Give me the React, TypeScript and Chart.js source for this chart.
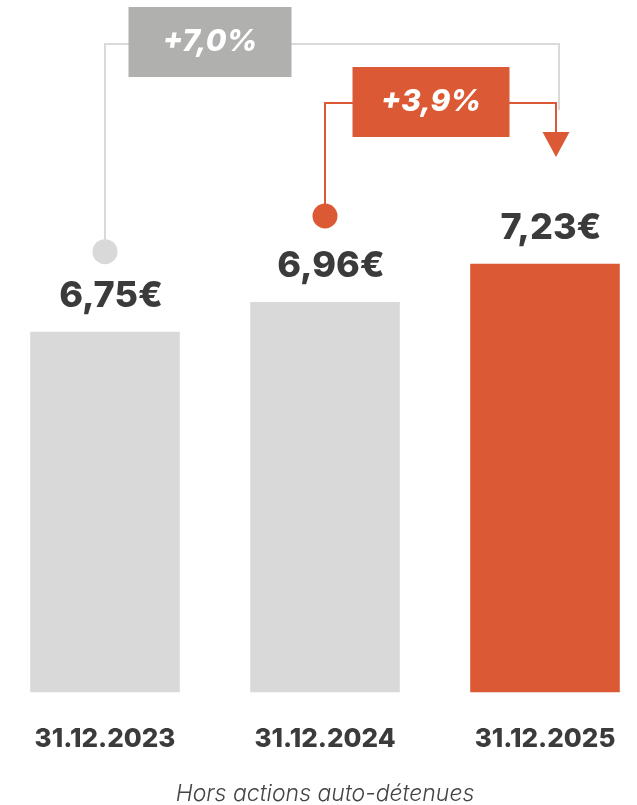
import React, { useEffect, useRef } from "react";
import { Chart, registerables } from "chart.js";

Chart.register(...registerables);

const dates = ["31.12.2023", "31.12.2024", "31.12.2025"];
const dividends = [6.75, 6.96, 7.23];
const valueLabels = ["6,75€", "6,96€", "7,23€"];
const growthLabels = ["+7,0%", "+3,9%"];
const footnote = "Hors actions auto-détenues";

const GREY = "#d9d9d9";
const ORANGE = "#db5a35";
const BOX_GREY = "#b0b0af";
const TEXT = "#3b3b3b";
const FONT = "Inter, 'Open Sans', sans-serif";

const annotations = {
  id: "annotations",
  afterDatasetsDraw(chart: any) {
    const ctx = chart.ctx as CanvasRenderingContext2D;
    const bars = chart.getDatasetMeta(0).data as any[];
    const b1 = bars[0], b2 = bars[1], b3 = bars[2];
    ctx.save();

    // value labels
    ctx.fillStyle = TEXT;
    ctx.font = `800 36px ${FONT}`;
    ctx.textAlign = "center";
    ctx.textBaseline = "middle";
    bars.forEach((b, i) => ctx.fillText(valueLabels[i], b.x + 6, b.y - 36));

    const r = 12.5;
    const c1y = b1.y - 80;
    const c2y = b2.y - 86;
    const yTop = 44;
    const yMid = 103;
    const gx = b3.x + 14;
    const ox = b3.x + 11;

    // grey connector
    ctx.lineWidth = 2;
    ctx.strokeStyle = GREY;
    ctx.beginPath();
    ctx.moveTo(b1.x, c1y);
    ctx.lineTo(b1.x, yTop);
    ctx.lineTo(gx, yTop);
    ctx.lineTo(gx, 110);
    ctx.stroke();
    ctx.fillStyle = GREY;
    ctx.beginPath();
    ctx.arc(b1.x, c1y, r, 0, Math.PI * 2);
    ctx.fill();

    // orange connector
    ctx.strokeStyle = ORANGE;
    ctx.beginPath();
    ctx.moveTo(b2.x, c2y);
    ctx.lineTo(b2.x, yMid);
    ctx.lineTo(ox, yMid);
    ctx.lineTo(ox, 134);
    ctx.stroke();
    ctx.fillStyle = ORANGE;
    ctx.beginPath();
    ctx.arc(b2.x, c2y, r, 0, Math.PI * 2);
    ctx.fill();
    ctx.beginPath();
    ctx.moveTo(ox - 13.5, 132);
    ctx.lineTo(ox + 13.5, 132);
    ctx.lineTo(ox, 157);
    ctx.closePath();
    ctx.fill();

    // boxes
    const gbx = b1.x + 105;
    ctx.fillStyle = BOX_GREY;
    ctx.fillRect(gbx - 81.5, 7, 163, 70);
    const obx = b2.x + 106;
    ctx.fillStyle = ORANGE;
    ctx.fillRect(obx - 78.5, 67, 157, 70);

    ctx.fillStyle = "#ffffff";
    ctx.font = `italic 800 30px ${FONT}`;
    ctx.fillText(growthLabels[0], gbx, 42);
    ctx.fillText(growthLabels[1], obx, 102);

    ctx.restore();
  },
};

export default function App() {
  const ref = useRef<HTMLCanvasElement | null>(null);

  useEffect(() => {
    if (!ref.current) return;
    const chart = new Chart(ref.current, {
      type: "bar",
      data: {
        labels: dates,
        datasets: [
          {
            data: dividends,
            backgroundColor: [GREY, GREY, ORANGE],
            borderWidth: 0,
            barPercentage: 0.68,
            categoryPercentage: 1,
          },
        ],
      },
      options: {
        responsive: false,
        animation: false,
        layout: { autoPadding: false, padding: { top: 155, bottom: -3, left: 0, right: 0 } },
        plugins: {
          legend: { display: false },
          tooltip: { enabled: false },
        },
        scales: {
          x: {
            type: "category",
            offset: true,
            grid: { display: false, drawTicks: false },
            border: { display: false },
            ticks: {
              autoSkip: false,
              maxRotation: 0,
              padding: 31,
              color: TEXT,
              font: { family: FONT, size: 26, weight: "800" as any },
            },
            title: {
              display: true,
              text: footnote,
              color: "#444444",
              font: { family: FONT, size: 23, style: "italic", weight: "300" as any },
              padding: { top: -5, bottom: 0 },
            },
          },
          y: { display: false, min: 4.2, max: 8 },
        },
      },
      plugins: [annotations],
    });
    return () => chart.destroy();
  }, []);

  return (
    <div
      style={{
        position: "fixed",
        left: 0,
        top: 0,
        width: 637,
        height: 805,
        overflow: "hidden",
        background: "#ffffff",
      }}
    >
      <canvas ref={ref} width={660} height={805} style={{ position: "absolute", left: -5, top: 0 }} />
    </div>
  );
}
